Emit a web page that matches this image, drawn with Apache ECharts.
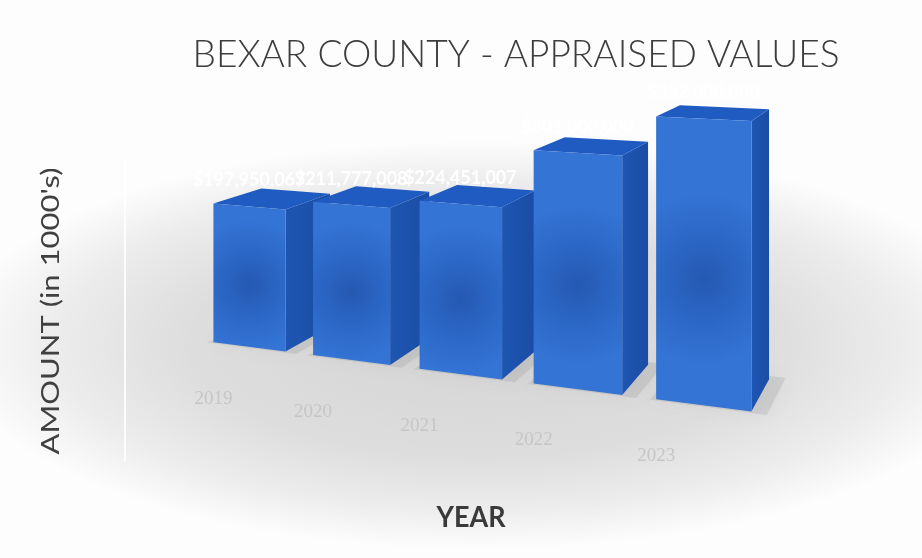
<!DOCTYPE html>
<html>
<head>
<meta charset="utf-8">
<title>Bexar County - Appraised Values</title>
<script src="https://cdn.jsdelivr.net/npm/echarts@6/dist/echarts.min.js"></script>
<style>
  html, body { margin: 0; padding: 0; background: #ffffff; }
  #chart { width: 922px; height: 558px; }
</style>
</head>
<body>
<div id="chart"></div>
<script>
// Appraised values by year (amounts in 1000's)
const YEARS = ['2019', '2020', '2021', '2022', '2023'];
const VALUES = [197950067, 211777008, 224451007, 301000000, 352000000];

const TITLE = 'BEXAR COUNTY - APPRAISED VALUES';
const Y_NAME = "AMOUNT (in 1000's)";
const X_NAME = 'YEAR';

// Perspective camera used to turn the flat cartesian layout into 3D boxes.
// World units are "category bands": x along the categories, y up, z into depth.
const VIEW = {
  focal: 1323,
  centerX: 461,
  horizon: -45,
  yaw: -22.17 * Math.PI / 180,
  eyeHeight: 3.434,
  eyeX: 6.597,
  eyeZ: -10.039
};
const BAR_WIDTH = 0.73;   // share of a category band
const BAR_DEPTH = 0.82;   // box depth, in bands

function project(x, y, z) {
  const c = Math.cos(VIEW.yaw), s = Math.sin(VIEW.yaw);
  const dx = x - VIEW.eyeX, dz = z - VIEW.eyeZ;
  const xc = dx * c - dz * s;
  const zc = dx * s + dz * c;
  return [VIEW.centerX + VIEW.focal * xc / zc,
          VIEW.horizon - VIEW.focal * (y - VIEW.eyeHeight) / zc];
}

// Box extents for one data item, read through the hidden cartesian axes
function boxOf(params, api) {
  const sys = params.coordSys;
  const band = api.size([1, 0])[0];
  const base = api.coord([api.value(0), 0]);
  const top = api.coord([api.value(0), api.value(1)]);
  const mid = (base[0] - sys.x) / band;
  return {
    mid: mid,
    h: (base[1] - top[1]) / band,
    l: mid - BAR_WIDTH / 2,
    r: mid + BAR_WIDTH / 2,
    d: BAR_DEPTH
  };
}

const measureCtx = document.createElement('canvas').getContext('2d');
function textWidth(text, font) {
  measureCtx.font = font;
  return measureCtx.measureText(text).width;
}
function fitScale(text, font, target) {
  return target / textWidth(text, font);
}

function money(v) {
  return '$' + v.toLocaleString('en-US');
}

function renderShadow(params, api) {
  const b = boxOf(params, api);
  const pts = [
    project(b.l - 0.04, 0, -0.03),
    project(b.r + 0.12, 0, -0.03),
    project(b.r + 0.12, 0, b.d + 0.08),
    project(b.l - 0.04, 0, b.d + 0.08)
  ];
  return {
    type: 'polygon',
    shape: { points: pts },
    style: {
      fill: 'rgba(120,120,120,0.16)',
      shadowBlur: 18,
      shadowColor: 'rgba(100,100,100,0.45)'
    }
  };
}

function renderBox(params, api) {
  const b = boxOf(params, api);
  const fbl = project(b.l, 0, 0), fbr = project(b.r, 0, 0);
  const ftl = project(b.l, b.h, 0), ftr = project(b.r, b.h, 0);
  const bbr = project(b.r, 0, b.d), btr = project(b.r, b.h, b.d);
  const btl = project(b.l, b.h, b.d);
  const topMid = project(b.mid, b.h, 0);
  const idx = params.dataIndex;

  return {
    type: 'group',
    children: [
      {
        type: 'polygon',
        shape: { points: [fbr, bbr, btr, ftr] },
        style: {
          fill: {
            type: 'linear', x: 0, y: 0, x2: 1, y2: 0,
            colorStops: [{ offset: 0, color: '#1e56b3' }, { offset: 1, color: '#1a4da4' }]
          }
        }
      },
      {
        type: 'polygon',
        shape: { points: [ftl, ftr, btr, btl] },
        style: { fill: '#1f5bc0' }
      },
      {
        type: 'polygon',
        shape: { points: [fbl, fbr, ftr, ftl] },
        style: {
          fill: {
            type: 'radial', x: 0.5, y: 0.55, r: 0.9,
            colorStops: [
              { offset: 0, color: '#2559b3' },
              { offset: 0.5, color: '#2c67c6' },
              { offset: 1, color: '#3474d4' }
            ]
          }
        }
      },
      {
        type: 'text',
        x: fbl[0], y: fbl[1] + 57,
        style: {
          text: YEARS[idx],
          font: '19px "Liberation Serif"',
          fill: '#c6c6c6',
          align: 'center',
          verticalAlign: 'middle'
        }
      },
      {
        type: 'text',
        x: topMid[0], y: topMid[1] - 26,
        style: {
          text: money(VALUES[idx]),
          font: 'bold 18px Lato',
          fill: '#ffffff',
          align: 'center',
          verticalAlign: 'middle'
        }
      }
    ]
  };
}

const seriesData = YEARS.map((y, i) => [i, VALUES[i]]);

const titleFont = '300 38px Lato';
const yNameFont = '400 25px Lato';
const xNameFont = 'bold 28px Lato';

const chart = echarts.init(document.getElementById('chart'), null, { renderer: 'canvas' });
chart.setOption({
  animation: false,
  backgroundColor: '#ffffff',
  grid: { left: 0, top: 0, width: 500, height: 248.4, containLabel: false },
  xAxis: { type: 'category', data: YEARS, show: false, boundaryGap: true },
  yAxis: { type: 'value', min: 0, max: 400000000, show: false },
  graphic: [
    {
      type: 'rect', z: -10, silent: true,
      shape: { x: 0, y: 0, width: 922, height: 558 },
      style: { fill: '#fdfdfd' }
    },
    {
      type: 'circle', z: -9, silent: true,
      x: 480, y: 345, scaleX: 2.6,
      shape: { cx: 0, cy: 0, r: 205 },
      style: {
        fill: {
          type: 'radial', x: 0.5, y: 0.5, r: 0.5,
          colorStops: [
            { offset: 0, color: 'rgba(0,0,0,0.16)' },
            { offset: 0.55, color: 'rgba(0,0,0,0.125)' },
            { offset: 0.8, color: 'rgba(0,0,0,0.065)' },
            { offset: 1, color: 'rgba(0,0,0,0)' }
          ]
        }
      }
    },
    {
      type: 'line', z: -8, silent: true,
      shape: { x1: 125, y1: 160, x2: 125, y2: 462 },
      style: { stroke: 'rgba(255,255,255,0.85)', lineWidth: 2 }
    },
    {
      type: 'text', z: 10, silent: true,
      x: 516, y: 55,
      scaleX: fitScale(TITLE, titleFont, 647),
      style: { text: TITLE, font: titleFont, fill: '#3d3d3d', align: 'center', verticalAlign: 'middle' }
    },
    {
      type: 'text', z: 10, silent: true,
      x: 51, y: 311, rotation: Math.PI / 2,
      scaleX: fitScale(Y_NAME, yNameFont, 287),
      style: { text: Y_NAME, font: yNameFont, fill: '#404040', align: 'center', verticalAlign: 'middle' }
    },
    {
      type: 'text', z: 10, silent: true,
      x: 471, y: 518,
      scaleX: fitScale(X_NAME, xNameFont, 69),
      style: { text: X_NAME, font: xNameFont, fill: '#3a3a3a', align: 'center', verticalAlign: 'middle' }
    }
  ],
  series: [
    {
      type: 'custom', name: 'shadow', z: 1, silent: true,
      coordinateSystem: 'cartesian2d',
      encode: { x: 0, y: 1 },
      data: seriesData,
      renderItem: renderShadow
    },
    {
      type: 'custom', name: 'Appraised Value', z: 2, silent: true,
      coordinateSystem: 'cartesian2d',
      encode: { x: 0, y: 1 },
      data: seriesData,
      renderItem: renderBox
    }
  ]
});
</script>
</body>
</html>
